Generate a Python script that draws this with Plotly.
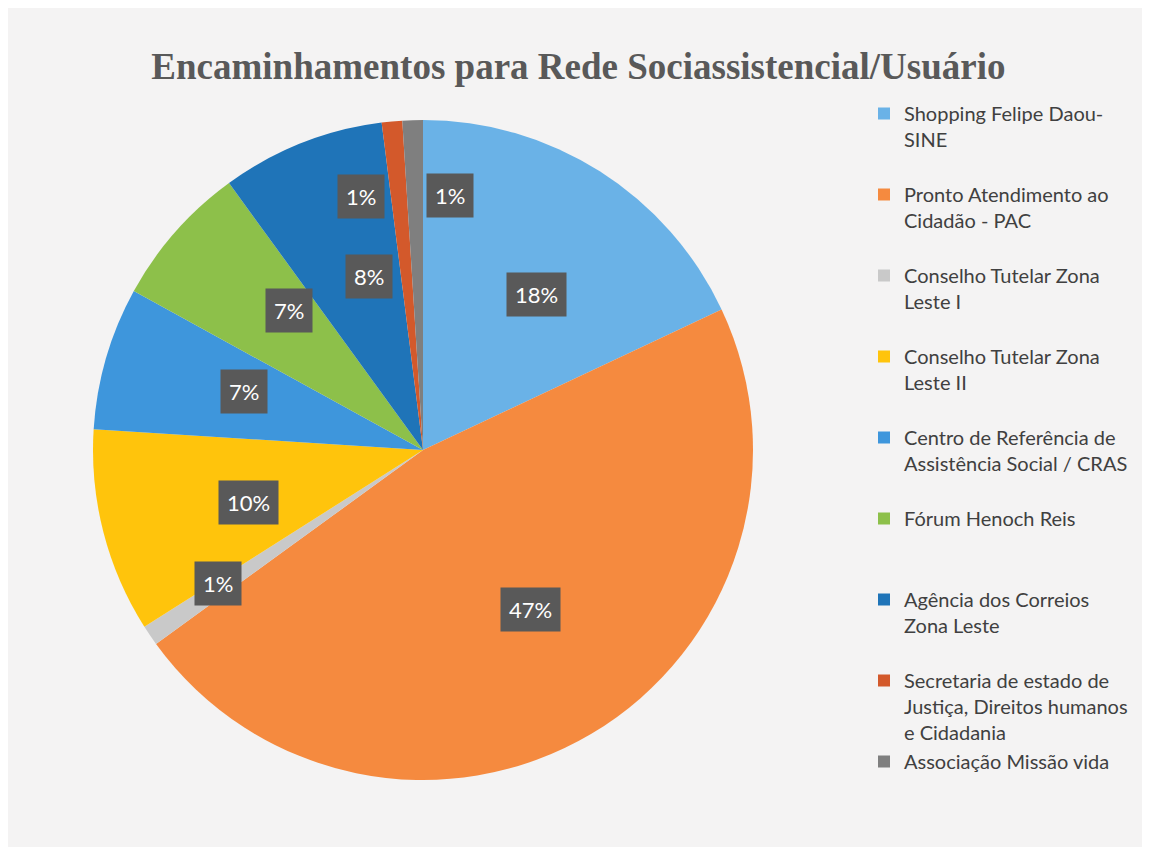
import math
import plotly.graph_objects as go

# ---------------- data ----------------
categories = [
    "Shopping Felipe Daou-<br>SINE",
    "Pronto Atendimento ao<br>Cidadão - PAC",
    "Conselho Tutelar Zona<br>Leste I",
    "Conselho Tutelar Zona<br>Leste II",
    "Centro de Referência de<br>Assistência Social / CRAS",
    "Fórum Henoch Reis",
    "Agência dos Correios<br>Zona Leste",
    "Secretaria de estado de<br>Justiça, Direitos humanos<br>e Cidadania",
    "Associação Missão vida",
]
percent_values = [18, 47, 1, 10, 7, 7, 8, 1, 1]
colors = [
    "#6AB2E7", "#F58A3F", "#C9C9C9", "#FFC40C", "#3E96DC",
    "#8DC04A", "#1F74B8", "#D3592B", "#7F7F7F",
]
title_text = "Encaminhamentos para Rede Sociassistencial/Usuário"

# ---------------- layout geometry ----------------
W, H = 1150, 847
cx, cy, R = 415, 442, 330

# pad legend labels so entries are evenly spaced (3 lines each, except last)
legend_labels = []
for i, c in enumerate(categories):
    n = c.count("<br>") + 1
    if i < len(categories) - 1:
        c = c + "<br> " * (3 - n)
    legend_labels.append(c)

fig = go.Figure(
    go.Pie(
        labels=legend_labels,
        values=percent_values,
        sort=False,
        direction="clockwise",
        rotation=0,
        textinfo="none",
        marker=dict(colors=colors, line=dict(width=0)),
        domain=dict(
            x=[(cx - R) / W, (cx + R) / W],
            y=[1 - (cy + R) / H, 1 - (cy - R) / H],
        ),
        hovertemplate="%{label}: %{value}%<extra></extra>",
    )
)

# percentage label boxes positioned from the data
total = sum(percent_values)
cum = 0
pos = []
for v in percent_values:
    mid = (cum + v / 2) / total * 2 * math.pi
    cum += v
    r = (0.84 if v / total < 0.03 else 0.64) * R
    pos.append([cx + r * math.sin(mid), cy - r * math.cos(mid), 0])
# separate neighbouring labels that would collide
for i in range(1, len(pos)):
    if math.hypot(pos[i][0] - pos[i - 1][0], pos[i][1] - pos[i - 1][1]) < 60:
        pos[i][2] = 36
        pos[i - 1][2] = -36

annotations = []
for (x, y, xs), v in zip(pos, percent_values):
    annotations.append(
        dict(
            x=x / W, y=1 - y / H, xref="paper", yref="paper",
            text=f"{round(v / total * 100)}%",
            showarrow=False, xshift=xs,
            font=dict(family="Lato", size=22, color="white"),
            bgcolor="#595959", borderpad=8,
        )
    )

fig.update_layout(
    width=W, height=H,
    margin=dict(l=0, r=0, t=0, b=0),
    paper_bgcolor="#F4F3F3",
    plot_bgcolor="#F4F3F3",
    title=dict(
        text=f"<b>{title_text}</b>",
        x=0.496, xanchor="center", y=1 - 58 / H, yanchor="middle",
        font=dict(family="Liberation Serif", size=37, color="#595959"),
    ),
    legend=dict(
        x=856 / W, y=1 - 86 / H, xanchor="left", yanchor="top",
        font=dict(family="Lato", size=20, color="#404040"),
        valign="top", bgcolor="rgba(0,0,0,0)",
        itemclick=False, itemdoubleclick=False,
    ),
    annotations=annotations,
)

fig.write_html("out.html")
